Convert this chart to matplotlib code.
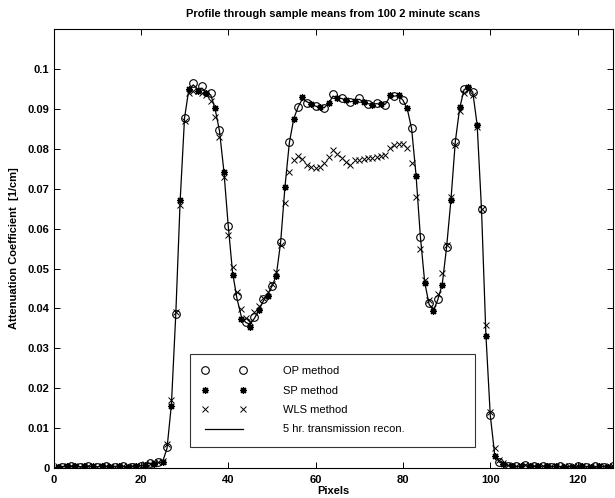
import matplotlib
matplotlib.use("Agg")
import matplotlib.pyplot as plt

plt.rcParams['font.family'] = ['Liberation Sans', 'DejaVu Sans']

# ---------------- data ----------------
pixels = list(range(1, 129))

transmission = [
    0.0003, 0.0004, 0.0003, 0.0005, 0.0004, 0.0003, 0.0004, 0.0005, 0.0004, 0.0003,
    0.0005, 0.0004, 0.0003, 0.0004, 0.0005, 0.0004, 0.0003, 0.0004, 0.0005, 0.0006,
    0.0008, 0.0012, 0.0011, 0.0013, 0.0016,
    0.0050, 0.0160, 0.0386, 0.0670, 0.0877, 0.0950, 0.0960, 0.0950, 0.0952, 0.0940,
    0.0935, 0.0900, 0.0845, 0.0745, 0.0608, 0.0490, 0.0425, 0.0380, 0.0365, 0.0360,
    0.0375, 0.0395, 0.0418, 0.0435, 0.0455, 0.0482, 0.0565, 0.0705, 0.0815, 0.0875,
    0.0905, 0.0925, 0.0918, 0.0912, 0.0907, 0.0903, 0.0903, 0.0915, 0.0932, 0.0928,
    0.0926, 0.0921, 0.0918, 0.0920, 0.0924, 0.0918, 0.0913, 0.0911, 0.0913, 0.0912,
    0.0912, 0.0930, 0.0932, 0.0933, 0.0922, 0.0900, 0.0850, 0.0735, 0.0580, 0.0465,
    0.0410, 0.0395, 0.0422, 0.0460, 0.0553, 0.0672, 0.0818, 0.0902, 0.0948, 0.0955,
    0.0942, 0.0860, 0.0648, 0.0335, 0.0133, 0.0035, 0.0015, 0.0010,
    0.0006, 0.0005, 0.0004, 0.0005, 0.0008, 0.0006, 0.0005, 0.0004, 0.0005, 0.0004,
    0.0003, 0.0005, 0.0004, 0.0003, 0.0004, 0.0003, 0.0004, 0.0003, 0.0004, 0.0003,
    0.0004, 0.0003, 0.0004, 0.0003, 0.0004,
]

op_pixels = list(range(2, 129, 2))
op_values = [
    0.0003, 0.0004, 0.0003, 0.0004, 0.0003, 0.0004, 0.0003, 0.0004, 0.0003, 0.0005,
    0.0012, 0.0014, 0.0052, 0.0386, 0.0877, 0.0964, 0.0957, 0.0940, 0.0847, 0.0607,
    0.0430, 0.0365, 0.0378, 0.0423, 0.0456, 0.0567, 0.0818, 0.0905, 0.0916, 0.0906,
    0.0901, 0.0937, 0.0927, 0.0918, 0.0927, 0.0912, 0.0914, 0.0910, 0.0932, 0.0922,
    0.0851, 0.0578, 0.0413, 0.0423, 0.0553, 0.0818, 0.0949, 0.0943, 0.0648, 0.0133,
    0.0015, 0.0006, 0.0004, 0.0007, 0.0005, 0.0004, 0.0003, 0.0004, 0.0003, 0.0004,
    0.0003, 0.0004, 0.0003, 0.0004,
]

sp_pixels = list(range(1, 128, 2))
sp_values = [
    0.0003, 0.0004, 0.0004, 0.0005, 0.0004, 0.0004, 0.0003, 0.0005, 0.0003, 0.0005,
    0.0008, 0.0011, 0.0016, 0.0155, 0.0672, 0.0950, 0.0945, 0.0940, 0.0901, 0.0743,
    0.0484, 0.0373, 0.0353, 0.0396, 0.0430, 0.0480, 0.0705, 0.0875, 0.0929, 0.0912,
    0.0905, 0.0915, 0.0927, 0.0922, 0.0920, 0.0918, 0.0910, 0.0912, 0.0935, 0.0935,
    0.0901, 0.0733, 0.0463, 0.0393, 0.0459, 0.0672, 0.0904, 0.0956, 0.0860, 0.0331,
    0.0030, 0.0010, 0.0005, 0.0005, 0.0006, 0.0004, 0.0004, 0.0005, 0.0003, 0.0003,
    0.0004, 0.0003, 0.0004, 0.0003,
]

wls_values = [
    0.0004, 0.0003, 0.0004, 0.0004, 0.0005, 0.0003, 0.0004, 0.0004, 0.0005, 0.0003,
    0.0004, 0.0005, 0.0004, 0.0003, 0.0004, 0.0005, 0.0004, 0.0004, 0.0005, 0.0006,
    0.0009, 0.0011, 0.0012, 0.0014, 0.0018,
    0.0060, 0.0170, 0.0390, 0.0660, 0.0870, 0.0940, 0.0945, 0.0945, 0.0940, 0.0935,
    0.0920, 0.0880, 0.0830, 0.0730, 0.0585, 0.0503, 0.0440, 0.0398, 0.0375, 0.0365,
    0.0390, 0.0405, 0.0425, 0.0440, 0.0462, 0.0490, 0.0560, 0.0663, 0.0743, 0.0772,
    0.0782, 0.0775, 0.0759, 0.0754, 0.0752, 0.0754, 0.0765, 0.0779, 0.0797, 0.0788,
    0.0777, 0.0768, 0.0759, 0.0771, 0.0773, 0.0774, 0.0776, 0.0778, 0.0780, 0.0782,
    0.0784, 0.0801, 0.0809, 0.0813, 0.0812, 0.0801, 0.0764, 0.0680, 0.0550, 0.0470,
    0.0420, 0.0400, 0.0435, 0.0488, 0.0560, 0.0679, 0.0810, 0.0895, 0.0940, 0.0950,
    0.0935, 0.0855, 0.0650, 0.0358, 0.0140, 0.0050, 0.0020, 0.0012,
    0.0007, 0.0005, 0.0005, 0.0004, 0.0007, 0.0006, 0.0004, 0.0005, 0.0004, 0.0005,
    0.0004, 0.0004, 0.0003, 0.0004, 0.0004, 0.0003, 0.0004, 0.0004, 0.0003, 0.0004,
    0.0003, 0.0004, 0.0004, 0.0003, 0.0004,
]

title = "Profile through sample means from 100 2 minute scans"
xlabel = "Pixels"
ylabel = "Attenuation Coefficient  [1/cm]"
labels = ["OP method", "SP method", "WLS method", "5 hr. transmission recon."]
xticks = [0, 20, 40, 60, 80, 100, 120]
yticks = [0, 0.01, 0.02, 0.03, 0.04, 0.05, 0.06, 0.07, 0.08, 0.09, 0.1]
ytick_labels = ["0", "0.01", "0.02", "0.03", "0.04", "0.05", "0.06", "0.07", "0.08", "0.09", "0.1"]

# ---------------- plot ----------------
fig = plt.figure(figsize=(6.15, 4.98), dpi=100)
ax = fig.add_axes([0.087, 0.0602, 0.909, 0.8814])

asterisk = (8, 2, 0)
h_op, = ax.plot(op_pixels, op_values, linestyle='none', marker='o', markersize=5.5,
                markerfacecolor='none', markeredgecolor='black', markeredgewidth=0.8)
h_sp, = ax.plot(sp_pixels, sp_values, linestyle='none', marker=asterisk, markersize=5,
                color='black', markeredgewidth=0.9)
h_wls, = ax.plot(pixels, wls_values, linestyle='none', marker='x', markersize=3.8,
                 color='black', markeredgewidth=0.7)
h_tr, = ax.plot(pixels, transmission, '-', color='black', linewidth=0.9)

ax.set_xlim(0, 128)
ax.set_ylim(0, 0.11)
ax.set_xticks(xticks)
ax.set_xticklabels([str(t) for t in xticks], fontsize=8, fontweight='bold')
ax.set_yticks(yticks)
ax.set_yticklabels(ytick_labels, fontsize=8, fontweight='bold')
ax.tick_params(direction='in', top=True, right=True, length=4, width=0.7, pad=3)
ax.tick_params(axis='x', pad=5)
for s in ax.spines.values():
    s.set_linewidth(0.8)

ax.set_title(title, fontsize=8, fontweight='bold', pad=9)
ax.set_xlabel(xlabel, fontsize=8, fontweight='bold', labelpad=1)
ax.set_ylabel(ylabel, fontsize=8, fontweight='bold', labelpad=6)

leg = ax.legend([h_op, h_sp, h_wls, h_tr], labels, loc='upper left',
                bbox_to_anchor=(0.244, 0.041, 0.51, 0.219), mode='expand',
                numpoints=2, fontsize=8, frameon=True, fancybox=False,
                edgecolor='black', borderpad=1.1, labelspacing=0.85,
                handlelength=4.0, handletextpad=3.3, borderaxespad=0)
leg.get_frame().set_linewidth(0.8)

fig.savefig("out.png", dpi=100)
